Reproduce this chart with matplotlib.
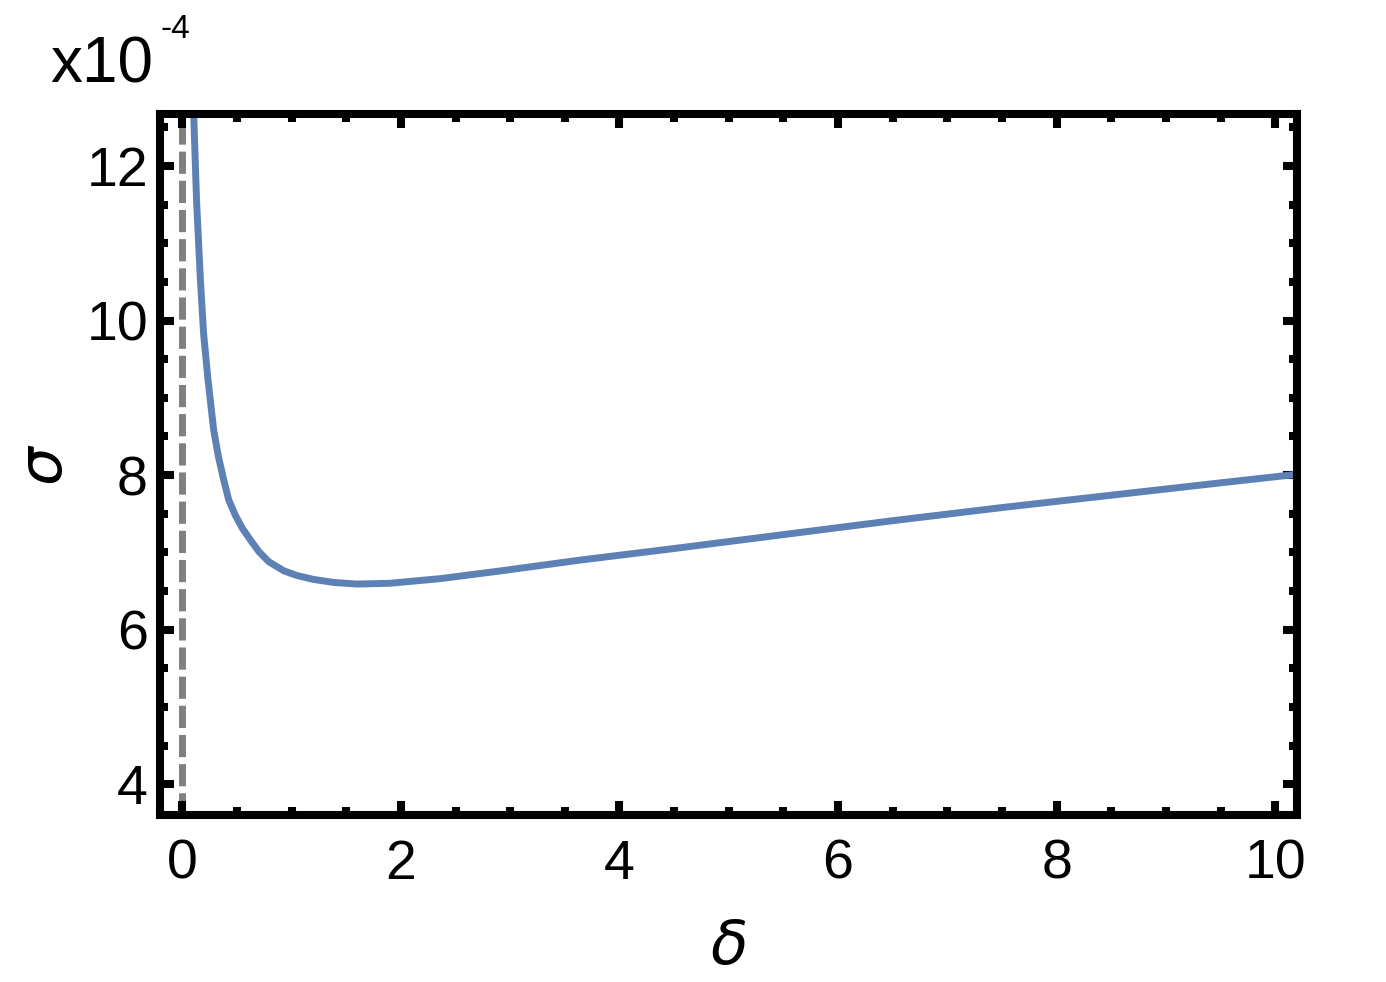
import matplotlib
matplotlib.use('Agg')
import matplotlib.pyplot as plt
from matplotlib.ticker import MultipleLocator

plt.rcParams['font.family'] = ['Liberation Sans', 'DejaVu Sans']
plt.rcParams['mathtext.fontset'] = 'dejavusans'

# values (sigma in units of 1e-4)
delta = [0.103, 0.13, 0.165, 0.195, 0.235, 0.287, 0.33, 0.378, 0.424, 0.485,
         0.55, 0.623, 0.70, 0.79, 0.93, 1.05, 1.2, 1.39, 1.6, 1.9, 2.36, 2.91,
         3.64, 4.5, 5.5, 6.5, 7.5, 8.5, 9.5, 10.2]
sigma = [12.70, 11.55, 10.53, 9.82, 9.23, 8.58, 8.24, 7.94, 7.68, 7.48,
         7.31, 7.16, 7.01, 6.88, 6.76, 6.70, 6.65, 6.61, 6.59, 6.60, 6.66, 6.76,
         6.90, 7.05, 7.23, 7.41, 7.58, 7.74, 7.90, 8.01]
xticks = [0, 2, 4, 6, 8, 10]
yticks = [4, 6, 8, 10, 12]

fig = plt.figure(figsize=(13.86, 9.82), dpi=100)
ax = fig.add_axes([0.1158, 0.170, 0.8200, 0.7136])

ax.axvline(0, color='#808080', lw=5, dashes=(3.2, 1.0), zorder=1)
ax.plot(delta, sigma, color='#5E81B5', lw=5, solid_joinstyle='round', zorder=2)

ax.set_xlim(-0.2, 10.2)
ax.set_ylim(3.6, 12.67)
ax.set_xticks(xticks)
ax.set_yticks(yticks)
ax.xaxis.set_minor_locator(MultipleLocator(0.5))
ax.yaxis.set_minor_locator(MultipleLocator(0.5))

for s in ax.spines.values():
    s.set_linewidth(5.8)
    s.set_color('black')

ax.tick_params(which='both', direction='in', top=True, right=True, width=5.8,
               color='black', labelsize=40)
ax.tick_params(which='major', length=10)
ax.tick_params(which='minor', length=6)
ax.tick_params(axis='x', which='major', pad=17)
ax.tick_params(axis='y', which='major', pad=9)

ax.set_xlabel(r'$\delta$', fontsize=44, labelpad=21)
ax.set_ylabel(r'$\sigma$', fontsize=44, labelpad=8)

fig.text(0.036, 0.9155, 'x10', fontsize=46, ha='left', va='baseline')
fig.text(0.116, 0.961, '-4', fontsize=24, ha='left', va='baseline')

fig.savefig('out.png', dpi=100)
